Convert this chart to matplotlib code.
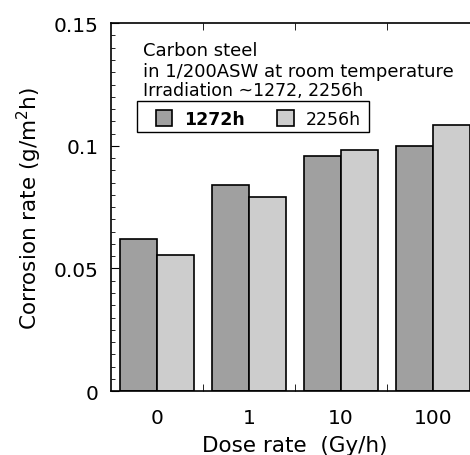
import matplotlib
matplotlib.use("Agg")
import matplotlib.pyplot as plt
from matplotlib.patches import Rectangle
import numpy as np

plt.rcParams['font.family'] = ['DejaVu Sans']
plt.rcParams['mathtext.fontset'] = 'dejavusans'

# dane
dose = ["0", "1", "10", "100"]
rate_1272 = [0.062, 0.084, 0.096, 0.100]
rate_2256 = [0.0555, 0.079, 0.0985, 0.1085]
yticks = [0, 0.05, 0.1, 0.15]
ylabels = ["0", "0.05", "0.1", "0.15"]

x = np.arange(len(dose))
w = 0.4

fig = plt.figure(figsize=(4.70, 4.56), dpi=100)
ax = fig.add_axes([0.236, 0.140, 0.783, 0.807])

ax.bar(x - w / 2, rate_1272, w, color="#a0a0a0", edgecolor="black", linewidth=1.2, label="1272h")
ax.bar(x + w / 2, rate_2256, w, color="#cdcdcd", edgecolor="black", linewidth=1.2, label="2256h")

ax.set_xlim(-0.5, 3.5)
ax.set_ylim(0, 0.15)

ax.set_xticks(x)
ax.set_xticklabels(dose, fontsize=14.5)
ax.set_xticks([0.5, 1.5, 2.5], minor=True)
ax.tick_params(axis="x", which="major", length=0, pad=12)
ax.tick_params(axis="x", which="minor", direction="in", length=5, top=True)

ax.set_yticks(yticks)
ax.set_yticklabels(ylabels, fontsize=14.5)
ax.set_yticks(np.arange(0, 0.1501, 0.005), minor=True)
ax.tick_params(axis="y", which="major", direction="in", length=6, pad=9)
ax.tick_params(axis="y", which="minor", direction="in", length=3)

for s in ax.spines.values():
    s.set_linewidth(1.2)

ax.set_xlabel("Dose rate  (Gy/h)", fontsize=15.5, labelpad=6)
ax.set_ylabel("Corrosion rate (g/m$^2$h)", fontsize=15.5, labelpad=7)

ax.text(0.087, 0.913, "Carbon steel", transform=ax.transAxes, fontsize=13, va="baseline")
ax.text(0.087, 0.856, "in 1/200ASW at room temperature", transform=ax.transAxes, fontsize=13, va="baseline")
ax.text(0.087, 0.804, "Irradiation ~1272, 2256h", transform=ax.transAxes, fontsize=12.5, va="baseline")

# legenda bez ramki + osobna ramka
leg = ax.legend(loc="center left", bbox_to_anchor=(0.122, 0.740), borderaxespad=0, ncol=2, fontsize=12.5,
                frameon=False, handlelength=0.95, handleheight=1.0, columnspacing=1.85,
                borderpad=0, handletextpad=0.7)
leg.get_texts()[0].set_fontweight("bold")
ax.add_patch(Rectangle((0.0707, 0.704), 0.630, 0.084, transform=ax.transAxes,
                       fill=False, edgecolor="black", linewidth=1.0, zorder=5))

fig.savefig("out.png", dpi=100)
